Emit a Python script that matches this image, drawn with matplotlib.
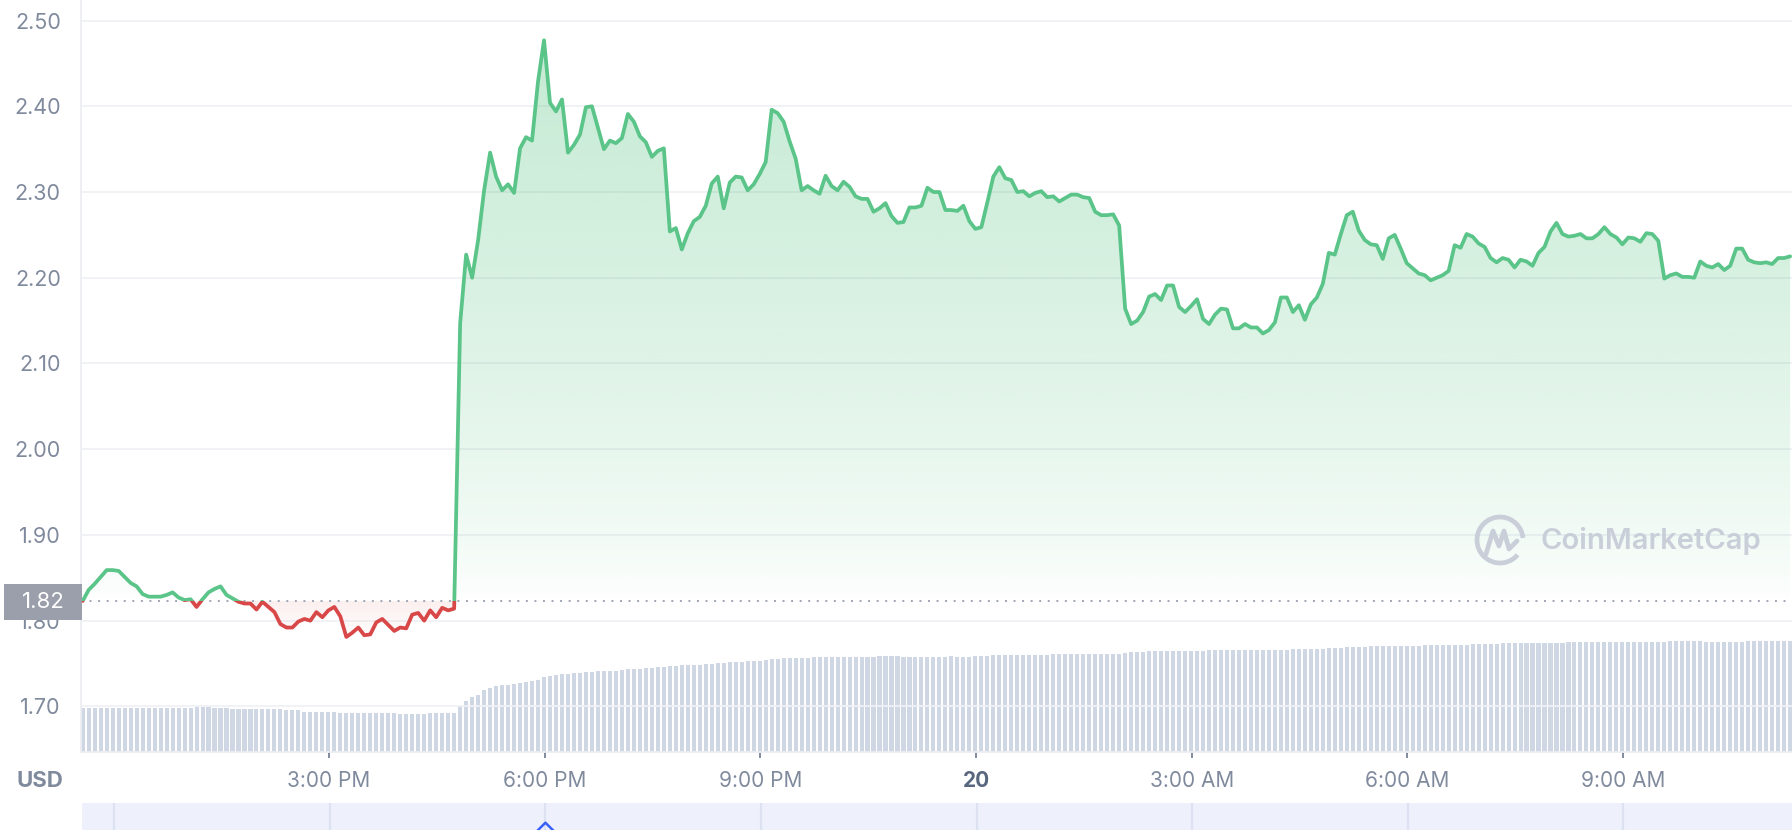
import numpy as np
import matplotlib
matplotlib.use("Agg")
import matplotlib.pyplot as plt
from matplotlib.patches import Rectangle, PathPatch, Arc
from matplotlib.path import Path
from matplotlib.colors import to_rgb
import matplotlib.transforms as mtransforms

plt.rcParams['font.family'] = ['Inter', 'DejaVu Sans']

# ---------------- data ----------------
# price (USD), one point every 5 minutes starting ~11:34 AM
price_part1 = [
    1.823, 1.836, 1.843, 1.851, 1.859, 1.859, 1.858, 1.851, 1.844, 1.840,
    1.831, 1.828, 1.828, 1.828, 1.830, 1.833, 1.827, 1.824, 1.825, 1.816,
    1.825, 1.833, 1.837, 1.840, 1.830, 1.826, 1.822, 1.820, 1.820, 1.813,
    1.822, 1.816, 1.810, 1.796, 1.792, 1.792, 1.799, 1.802, 1.800, 1.810,
    1.804, 1.812, 1.816, 1.805, 1.781, 1.786, 1.792, 1.783, 1.784, 1.798,
    1.802, 1.795, 1.788, 1.792, 1.791, 1.807, 1.809, 1.800, 1.812, 1.804,
    1.815, 1.812, 1.814]
price_part2 = [
    2.147, 2.227, 2.200, 2.244, 2.302, 2.346, 2.318, 2.302, 2.309, 2.299,
    2.351, 2.364, 2.360, 2.429, 2.477, 2.404, 2.394, 2.408, 2.346, 2.355,
    2.367, 2.399, 2.400, 2.375, 2.350, 2.360, 2.357, 2.363, 2.391, 2.382,
    2.365, 2.358, 2.341, 2.348, 2.351, 2.254, 2.258, 2.233, 2.252, 2.266,
    2.271, 2.284, 2.310, 2.318, 2.281, 2.311, 2.318, 2.317, 2.302, 2.309,
    2.321, 2.335, 2.396, 2.392, 2.382, 2.359, 2.339, 2.302, 2.307, 2.302]
price_part3 = [
    2.298, 2.319, 2.307, 2.302, 2.312, 2.306, 2.295, 2.292, 2.292, 2.277,
    2.281, 2.287, 2.272, 2.264, 2.265, 2.282, 2.282, 2.284, 2.305, 2.300,
    2.300, 2.279, 2.279, 2.278, 2.284, 2.266, 2.257, 2.259, 2.288, 2.318,
    2.329, 2.316, 2.314, 2.300, 2.301, 2.295, 2.299, 2.301, 2.294, 2.295,
    2.289, 2.293, 2.297, 2.297, 2.294, 2.293, 2.277, 2.273, 2.273, 2.274,
    2.261, 2.164, 2.146, 2.150, 2.160, 2.178, 2.181, 2.174, 2.191, 2.191]
price_part4 = [
    2.166, 2.160, 2.167, 2.175, 2.152, 2.146, 2.157, 2.164, 2.163, 2.141,
    2.141, 2.146, 2.142, 2.142, 2.135, 2.139, 2.148, 2.177, 2.177, 2.160,
    2.168, 2.151, 2.169, 2.177, 2.193, 2.229, 2.227, 2.251, 2.273, 2.277,
    2.255, 2.244, 2.239, 2.238, 2.222, 2.246, 2.250, 2.234, 2.217, 2.211,
    2.205, 2.203, 2.197, 2.200, 2.203, 2.208, 2.238, 2.235, 2.251, 2.248,
    2.240, 2.236, 2.223, 2.218, 2.223, 2.221, 2.212, 2.221, 2.219, 2.214]
price_part5 = [
    2.229, 2.236, 2.254, 2.264, 2.251, 2.248, 2.249, 2.251, 2.246, 2.246,
    2.251, 2.259, 2.251, 2.247, 2.239, 2.247, 2.246, 2.242, 2.252, 2.251,
    2.243, 2.199, 2.203, 2.205, 2.201, 2.201, 2.200, 2.219, 2.214, 2.212,
    2.216, 2.209, 2.214, 2.234, 2.234, 2.221, 2.218, 2.217, 2.218, 2.216,
    2.223, 2.223, 2.225]
price = price_part1 + price_part2 + price_part3 + price_part4 + price_part5

# 24h volume (relative, millions USD), one bar per price point
volume = (
    [44] * 19 + [45] * 3 + [44] * 3 + [43] * 9 + [42] * 3 + [40] * 6 +
    [39] * 10 + [38] * 5 + [39] * 5 +
    [46, 51, 55, 57, 62, 64, 66, 67, 67, 68, 69, 70, 71, 72, 75, 76, 77] +
    [78, 78, 79, 79, 80, 80, 81, 81, 81, 81,
     82, 83, 83, 83, 84, 84, 85, 85, 86, 86,
     87, 87, 87, 87, 88, 88, 89, 89, 90, 90,
     90, 91, 91, 91, 92, 93, 93, 94, 94, 94,
     94, 94, 95, 95, 95, 95, 95, 95, 95, 95,
     95, 95, 95, 96, 96, 96, 96, 95, 95, 95,
     95, 95, 95, 95, 95, 96, 95, 95, 95, 96,
     96, 96, 97, 97, 97, 97, 97, 97, 97, 97,
     97, 97, 98, 98, 98, 98, 98, 98, 98, 98,
     98, 98, 98, 98, 99, 100, 100, 100, 101, 101,
     101, 101, 101, 101, 101, 101, 101, 101, 102, 102] +
    [102] * 12 + [103] * 6 + [104] * 3 + [105] * 4 + [106] * 9 +
    [107] * 8 + [108] * 5 + [109] * 11 + [110] * 17 + [111] * 6 +
    [110] * 7 + [111] * 8)

ref_price = 1.823
start_hour = 11.574          # ~11:34 AM, 19th
step_hours = 5 / 60
ytick_vals = [1.70, 1.80, 1.90, 2.00, 2.10, 2.20, 2.30, 2.40, 2.50]
xtick_hours = [15, 18, 21, 24, 27, 30, 33]
xtick_labels = ["3:00 PM", "6:00 PM", "9:00 PM", "20", "3:00 AM", "6:00 AM", "9:00 AM"]
nav_hours = [12, 15, 18, 21, 24, 27, 30, 33]

# ---------------- styling ----------------
GREEN = '#5ac489'
RED = '#d94848'
GREY_TXT = '#808a9d'
GRID = '#eff1f4'
BAR = '#cfd6e4'

W, H = 1792, 830
fig = plt.figure(figsize=(W / 100, H / 100), dpi=100)
fig.patch.set_facecolor('white')

left_px, bottom_px = 81, 752
pos = [left_px / W, 1 - bottom_px / H, 1 - left_px / W, bottom_px / H]
xlim = (11.55, 35.35)
ylim = (1.6468, 2.524)

t = start_hour + np.arange(len(price)) * step_hours
p = np.array(price)

# volume axes (behind)
ax_v = fig.add_axes(pos, zorder=1)
ax_v.bar(t, volume, width=step_hours * 0.68, color=BAR, linewidth=0)
ax_v.set_xlim(*xlim)
ax_v.set_ylim(0, max(volume) * 6.78)
ax_v.axis('off')

# price axes
ax = fig.add_axes(pos, zorder=2)
ax.patch.set_visible(False)


def gradient_fill(x, y, base, where, color, alpha_fn, ylo, yhi):
    coll = ax.fill_between(x, y, base, where=where, interpolate=True,
                           facecolor='none', edgecolor='none')
    path = Path.make_compound_path(*coll.get_paths())
    patch = PathPatch(path, transform=ax.transData, facecolor='none', edgecolor='none')
    ax.add_patch(patch)
    n = 300
    ys = np.linspace(ylo, yhi, n)
    rgba = np.zeros((n, 2, 4))
    rgba[..., :3] = to_rgb(color)
    rgba[:, :, 3] = alpha_fn(ys)[:, None]
    im = ax.imshow(rgba, extent=[x[0], x[-1], ylo, yhi], origin='lower',
                   aspect='auto', zorder=1, interpolation='bilinear')
    im.set_clip_path(patch)


gradient_fill(t, p, ref_price, p >= ref_price, '#3dbb6e',
              lambda y: 0.30 * np.clip((y - ref_price) / 0.657, 0, 1) ** 0.7,
              ref_price, 2.52)
gradient_fill(t, p, ref_price, p <= ref_price, '#e04848',
              lambda y: 0.09 * np.clip((y - 1.775) / (ref_price - 1.775), 0, 1),
              1.76, ref_price)

# line coloured by position relative to the reference price
LW = 2.7
lg, = ax.plot(t, p, color=GREEN, lw=LW, zorder=4, solid_joinstyle='round', solid_capstyle='round')
lg.set_clip_path(Rectangle((xlim[0] - 1, ref_price), 40, 5, transform=ax.transData))
lr, = ax.plot(t, p, color=RED, lw=LW, zorder=4, solid_joinstyle='round', solid_capstyle='round')
lr.set_clip_path(Rectangle((xlim[0] - 1, ref_price - 5), 40, 5, transform=ax.transData))

# dotted reference line
ax.axhline(ref_price, color='#9ea5b3', lw=1.4, dashes=(1, 3.4), zorder=3)

ax.set_xlim(*xlim)
ax.set_ylim(*ylim)
ax.set_yticks(ytick_vals)
ax.set_yticklabels([f"{v:.2f}" for v in ytick_vals])
ax.set_xticks(xtick_hours)
ax.set_xticklabels(xtick_labels)
ax.yaxis.grid(True, color=GRID, lw=1.3)
ax.set_axisbelow(True)
for s in ['top', 'right']:
    ax.spines[s].set_visible(False)
for s in ['left', 'bottom']:
    ax.spines[s].set_color('#eceef2')
    ax.spines[s].set_linewidth(1.3)
ax.tick_params(axis='y', length=0, pad=14.5, labelsize=15.5, labelcolor=GREY_TXT)
ax.tick_params(axis='x', length=4.5, width=1.4, color=GREY_TXT, pad=9,
               labelsize=15, labelcolor=GREY_TXT)
for lab in ax.get_xticklabels():
    if lab.get_text() == "20":
        lab.set_fontweight('bold')
        lab.set_color('#58667e')

# reference price box on the y axis
trans = mtransforms.blended_transform_factory(fig.transFigure, ax.transData)
box_h = 0.042
fig.add_artist(Rectangle((4 / W, ref_price - box_h / 2 - 0.0015), 78 / W, box_h,
                         transform=trans, facecolor='#9a9fab', edgecolor='none',
                         zorder=10, clip_on=False))
fig.text(43 / W, ref_price - 0.0015, f"{ref_price:.2f}", transform=trans, ha='center',
         va='center', color='white', fontsize=16, zorder=11)

# "USD" label
fig.text(40 / W, 1 - 781 / H, "USD", ha='center', va='center', color=GREY_TXT,
         fontsize=16, fontweight='bold')

# navigator strip
nav = fig.add_axes([82 / W, 0, 1 - 82 / W, 27 / H], zorder=1)
nav.set_facecolor('#eef1fc')
nav.set_xlim(*xlim)
nav.set_ylim(0, 1)
for h in nav_hours:
    nav.axvline(h, color='#dde2f3', lw=1.6)
nav.plot([18 - 0.17, 18, 18 + 0.17], [-0.18, 0.27, -0.18], color='#3861fb', lw=1.8)
for s in nav.spines.values():
    s.set_visible(False)
nav.set_xticks([])
nav.set_yticks([])

# watermark
ov = fig.add_axes([0, 0, 1, 1], zorder=5)
ov.set_xlim(0, W)
ov.set_ylim(H, 0)
ov.axis('off')
ov.patch.set_visible(False)
WM = '#c9ced9'
ov.add_patch(Arc((1500, 540), 46, 46, theta1=40, theta2=355, color=WM, lw=3.4))
ov.plot([1486, 1493, 1499, 1504, 1509, 1517],
        [554, 531, 546, 531, 549, 541], color=WM, lw=3.4,
        solid_joinstyle='round', solid_capstyle='round')
ov.text(1540, 541, "CoinMarketCap", fontsize=21, fontweight='semibold', color=WM,
        ha='left', va='center')

fig.savefig("out.png", dpi=100)
